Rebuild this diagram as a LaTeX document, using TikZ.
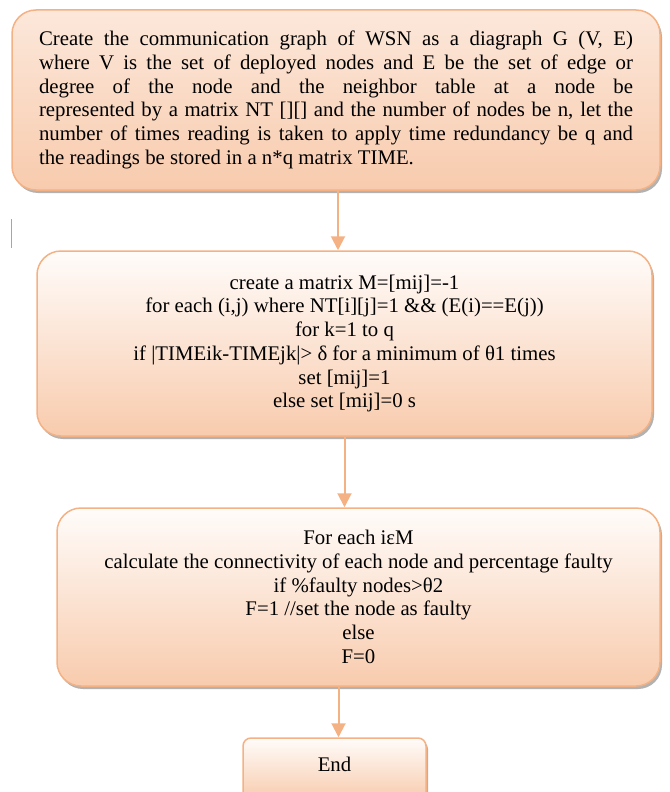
\documentclass[tikz,border=0pt]{standalone}
\usepackage{fontspec}
\setmainfont{Liberation Serif}
\usetikzlibrary{arrows.meta,shadows,positioning}
\definecolor{peachline}{HTML}{F4B183}
\definecolor{peachfill}{HTML}{F8CBAD}
\definecolor{peachtop}{HTML}{FFFCFA}
\tikzset{
	procbox/.style={draw=peachline, line width=1.5pt, rounded corners=24pt,
		top color=peachtop, bottom color=peachfill,
		drop shadow={shadow xshift=2pt, shadow yshift=-3pt, fill=black, opacity=0.3},
		font=\fontsize{20.8}{23.7}\selectfont, inner sep=0pt},
	flowarrow/.style={draw=peachline, line width=2pt, -{Triangle[width=14pt,length=14pt]}}
}
\begin{document}
\begin{tikzpicture}[x=1pt, y=-1pt]
	\useasboundingbox (0, 0) rectangle (669, 792);
	\clip (0, 0) rectangle (669, 792);
	\draw[gray!70, line width=0.8pt] (11, 219) -- (11, 248);
	\node (graphbox) at (336, 100) [procbox, top color=peachfill!45, minimum width=648, minimum height=180, text width=594, align=justify]
		{Create the communication graph of WSN as a diagraph G (V, E)\linebreak
		where V is the set of deployed nodes and E be the set of edge or\linebreak
		degree of the node and the neighbor table at a node be\linebreak
		represented by a matrix NT [][] and the number of nodes be n, let the\linebreak
		number of times reading is taken to apply time redundancy be q and\linebreak
		the readings be stored in a n*q matrix TIME.};
	\node (matrixbox) at (344.5, 343.5) [procbox, minimum width=615, minimum height=185, align=center]
		{create a matrix M=[mij]=-1\\
		for each (i,j) where NT[i][j]=1 \&\& (E(i)==E(j))\\
		for k=1 to q\\
		if |TIMEik-TIMEjk|> δ for a minimum of θ1 times\\
		set [mij]=1\\
		else set [mij]=0 s};
	\node (faultbox) at (358.5, 597) [procbox, minimum width=603, minimum height=178, align=center]
		{For each iεM\\
		calculate the connectivity of each node and percentage faulty\\
		if \%faulty nodes>θ2\\
		F=1 //set the node as faulty\\
		else\\
		F=0};
	\node (endbox) at (334.5, 769) [procbox, rounded corners=8pt, minimum width=183, minimum height=62, text depth=0pt]
		{\raisebox{10pt}{End}};
	\draw[flowarrow] ([xshift=2pt]graphbox.south) -- ([xshift=2pt]graphbox.south |- matrixbox.north);
	\draw[flowarrow] (matrixbox.south) -- (matrixbox.south |- faultbox.north);
	\draw[flowarrow] ([xshift=4pt]endbox.north |- faultbox.south) -- ([xshift=4pt]endbox.north);
\end{tikzpicture}
\end{document}
